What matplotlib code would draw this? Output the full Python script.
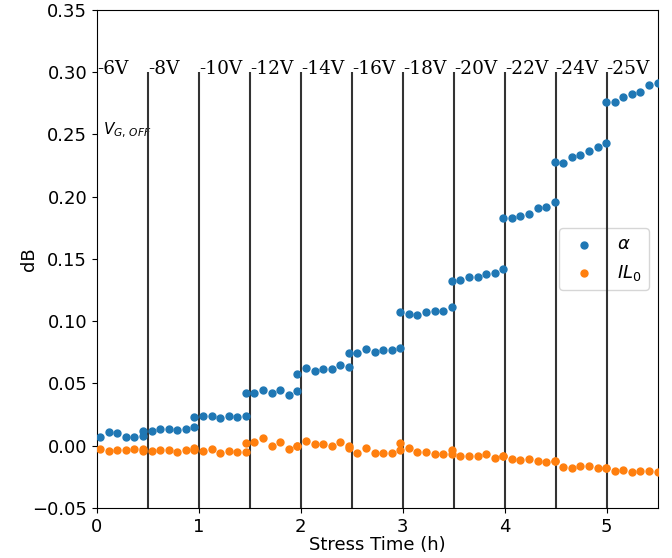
import matplotlib
matplotlib.use("Agg")
import matplotlib.pyplot as plt

# Gate-bias stress stages: start time (h) and applied V_G,OFF
stage_starts = [0.0, 0.5, 1.0, 1.5, 2.0, 2.5, 3.0, 3.5, 4.0, 4.5, 5.0]
stage_labels = ["-6V", "-8V", "-10V", "-12V", "-14V", "-16V",
                "-18V", "-20V", "-22V", "-24V", "-25V"]

# Measurement times (h); each stage repeats the previous stage's last time stamp
time_h = [
    0.030, 0.114, 0.198, 0.282, 0.367, 0.451,
    0.451, 0.535, 0.619, 0.703, 0.787, 0.872, 0.956,
    0.956, 1.040, 1.124, 1.208, 1.292, 1.376, 1.461,
    1.461, 1.545, 1.629, 1.713, 1.797, 1.881, 1.965,
    1.965, 2.050, 2.134, 2.218, 2.302, 2.386, 2.470,
    2.470, 2.555, 2.639, 2.723, 2.807, 2.891, 2.975,
    2.975, 3.059, 3.144, 3.228, 3.312, 3.396, 3.480,
    3.480, 3.564, 3.648, 3.733, 3.817, 3.901, 3.985,
    3.985, 4.069, 4.153, 4.238, 4.322, 4.406, 4.490,
    4.490, 4.574, 4.658, 4.742, 4.827, 4.911, 4.995,
    4.995, 5.079, 5.163, 5.247, 5.331, 5.416, 5.500,
]

# Attenuation change alpha (dB)
alpha_db = [
    0.0073, 0.0113, 0.0100, 0.0068, 0.0073, 0.0081,
    0.0121, 0.0118, 0.0132, 0.0132, 0.0124, 0.0132, 0.0148,
    0.0228, 0.0239, 0.0239, 0.0220, 0.0239, 0.0228, 0.0239,
    0.0421, 0.0426, 0.0448, 0.0421, 0.0448, 0.0405, 0.0442,
    0.0576, 0.0624, 0.0603, 0.0616, 0.0616, 0.0646, 0.0630,
    0.0742, 0.0742, 0.0777, 0.0756, 0.0769, 0.0769, 0.0782,
    0.1072, 0.1056, 0.1048, 0.1072, 0.1085, 0.1085, 0.1112,
    0.1326, 0.1331, 0.1353, 0.1358, 0.1380, 0.1385, 0.1417,
    0.1827, 0.1827, 0.1848, 0.1864, 0.1907, 0.1915, 0.1958,
    0.2282, 0.2274, 0.2317, 0.2335, 0.2367, 0.2397, 0.2429,
    0.2764, 0.2764, 0.2799, 0.2825, 0.2841, 0.2898, 0.2911,
]

# Insertion-loss change IL_0 (dB)
il0_db = [
    -0.0029, -0.0043, -0.0038, -0.0038, -0.0029, -0.0029,
    -0.0045, -0.0043, -0.0038, -0.0038, -0.0054, -0.0035, -0.0037,
    -0.0021, -0.0043, -0.0029, -0.0059, -0.0043, -0.0054, -0.0054,
    0.0019, 0.0030, 0.0060, 0.0000, 0.0030, -0.0029, -0.0002,
    0.0000, 0.0038, 0.0011, 0.0011, 0.0000, 0.0032, 0.0000,
    -0.0021, -0.0056, -0.0021, -0.0059, -0.0059, -0.0059, -0.0034,
    0.0019, -0.0021, -0.0048, -0.0048, -0.0064, -0.0064, -0.0037,
    -0.0066, -0.0080, -0.0085, -0.0080, -0.0069, -0.0101, -0.0083,
    -0.0085, -0.0109, -0.0117, -0.0109, -0.0125, -0.0133, -0.0122,
    -0.0125, -0.0168, -0.0176, -0.0165, -0.0160, -0.0176, -0.0181,
    -0.0181, -0.0203, -0.0192, -0.0213, -0.0203, -0.0203, -0.0208,
]

plt.rcParams["font.size"] = 13

fig = plt.figure(figsize=(6.72, 5.58), dpi=100)
ax = fig.add_axes([0.1443, 0.0896, 0.9787 - 0.1443, 0.9821 - 0.0896])

ax.scatter(time_h, alpha_db, s=25, color="tab:blue", label=r"$\alpha$", zorder=7)
ax.scatter(time_h, il0_db, s=25, color="tab:orange", label=r"$IL_0$", zorder=7)

ax.set_xlim(0, 5.5)
ax.set_ylim(-0.05, 0.35)

# Stage boundaries and stage voltage labels
ax.vlines(stage_starts[1:], -0.05, 0.30, colors="#333333", linewidth=1.5, zorder=6)
for x0, lab in zip(stage_starts, stage_labels):
    ax.text(x0, 0.2983, lab, ha="left", va="baseline",
            family="DejaVu Serif", fontsize=13.3, zorder=8)

ax.text(0.062, 0.253, r"$V_{G,\,OFF}$", ha="left", va="center", fontsize=11)

ax.set_xticks([0, 1, 2, 3, 4, 5])
ax.set_yticks([-0.05, 0.00, 0.05, 0.10, 0.15, 0.20, 0.25, 0.30, 0.35])
ax.set_xlabel("Stress Time (h)", fontsize=13, labelpad=0.5)
ax.set_ylabel("dB", fontsize=13, labelpad=-4)

ax.legend(loc="center right", fontsize=13)

fig.savefig("out.png", dpi=100)
